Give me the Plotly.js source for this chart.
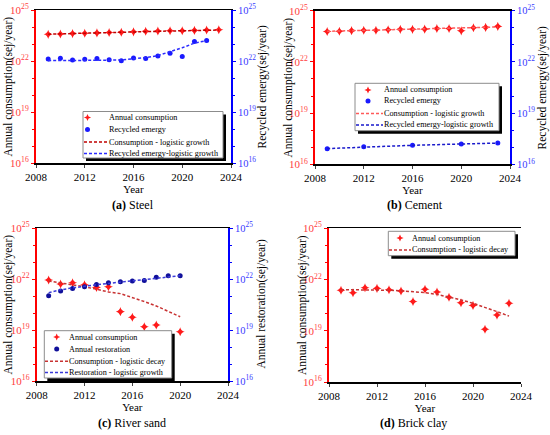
<!DOCTYPE html>
<html><head><meta charset="utf-8">
<script src="https://cdn.plot.ly/plotly-3.0.1.min.js"></script>
<style>html,body{margin:0;padding:0;background:#fff}#chart{width:550px;height:435px}</style>
</head><body><div id="chart"></div>
<script>
// ---------- data ----------
const yearsFull = [2009,2010,2011,2012,2013,2014,2015,2016,2017,2018,2019,2020,2021,2022,2023];
const yearsSteelRec = [2009,2010,2011,2012,2013,2014,2015,2016,2017,2018,2019,2020,2021,2022];
const steelCons = [3.7e23,3.9e23,4.1e23,4.3e23,4.5e23,4.7e23,4.9e23,5.2e23,5.6e23,5.8e23,6.0e23,6.0e23,6.3e23,6.6e23,6.9e23];
const steelConsFit = [3.8e23,4.0e23,4.2e23,4.3e23,4.5e23,4.7e23,4.9e23,5.1e23,5.4e23,5.6e23,5.8e23,6.0e23,6.2e23,6.4e23,6.6e23];
const steelRec = [1.32e22,1.45e22,1.15e22,1.26e22,1.38e22,1.2e22,1.05e22,1.51e22,1.38e22,1.95e22,2.82e22,1.86e22,1.38e23,1.58e23];
const steelRecFit = [1.05e22,1.05e22,1.05e22,1.07e22,1.1e22,1.12e22,1.17e22,1.32e22,1.58e22,2.09e22,3.47e22,6.03e22,1.12e23,1.58e23];

const cementCons = [6.0e23,6.2e23,6.8e23,7.1e23,7.2e23,7.6e23,8.1e23,8.1e23,8.3e23,9.1e23,9.1e23,6.6e23,1.0e24,1.05e24,1.2e24];
const cementConsFit = [6.2e23,6.5e23,6.8e23,7.1e23,7.4e23,7.8e23,7.9e23,8.3e23,8.7e23,9.1e23,9.3e23,9.8e23,1.02e24,1.07e24,1.12e24];
const yearsCementRec = [2009,2012,2016,2020,2023];
const cementRec = [8.1e16,1.07e17,1.29e17,1.55e17,1.78e17];
const cementRecFit = [8.3e16,1.05e17,1.3e17,1.55e17,1.75e17];

const yearsSandCons = [2009,2010,2011,2012,2013,2014,2015,2016,2017,2018,2020];
const sandCons = [8.7e21,5.1e21,6.0e21,4.5e21,3.2e21,3.5e21,1.2e20,5.6e19,1.55e19,1.95e19,7.9e18];
const yearsSand = [2009,2010,2011,2012,2013,2014,2015,2016,2017,2018,2019,2020];
const sandConsFit = [7.6e21,5.9e21,4.6e21,3.5e21,2.5e21,1.74e21,1.38e21,8.3e20,4.7e20,2.6e20,1.26e20,6.0e19];
const sandRest = [1.05e21,1.95e21,2.8e21,3.5e21,4.7e21,6.0e21,6.9e21,7.6e21,8.3e21,1.26e22,1.55e22,1.55e22];
const sandRestFit = [1.58e21,2.3e21,3.0e21,3.8e21,4.6e21,5.5e21,6.5e21,7.6e21,8.9e21,1.07e22,1.29e22,1.55e22];

const clayCons = [2.3e21,1.66e21,3.2e21,2.95e21,2.45e21,2.1e21,5.1e20,2.6e21,1.8e21,8.9e20,4.3e20,3.0e20,1.2e19,8.1e19,4.0e20];
const clayConsFit = [2.5e21,2.5e21,2.45e21,2.4e21,2.3e21,2.15e21,1.95e21,1.66e21,1.32e21,9.5e20,6.3e20,4.0e20,2.4e20,1.3e20,7.1e19];

const yTickVals = [1e16,1e19,1e22,1e25];
const yTickText = ['10<sup>16</sup>','10<sup>19</sup>','10<sup>22</sup>','10<sup>25</sup>'];
const yMinorVals = [1e17,1e18,1e20,1e21,1e23,1e24];
const xTickVals = [2008,2012,2016,2020,2024];
const panelTitles = ['<b>(a)</b> Steel','<b>(b)</b> Cement','<b>(c)</b> River sand','<b>(d)</b> Brick clay'];
const leftTitles = ['Annual consumption(sej/year)','Annual consumption(sej/year)','Annual consumption(sej/year)','Annual consumption(sej/year)'];
const rightTitles = ['Recycled emergy(sej/year)','Recycled emergy(sej/year)','Annual restoration(sej/year)'];
const legendA = ['Annual consumption','Recycled emergy','Consumption - logistic growth','Recycled emergy-logistic growth'];
const legendB = ['Annual consumption','Recycled emergy','Consumption - logistic growth','Recycled emergy-logistic growth'];
const legendC = ['Annual consumption','Annual restoration','Consumption - logistic decay','Restoration - logistic growth'];
const legendD = ['Annual consumption','Consumption - logistic decay'];

// ---------- styles ----------
const FONT = 'Liberation Serif, Times New Roman, serif';
const RED = '#ff0000', BLUE = '#0000ff';
const C_STAR = '#ff1a1a', C_DOT = '#1a1aff', C_DOT_C = '#10109a';
const C_FIT_A = '#c00000', C_FIT_RB = '#ff5a5a', C_FIT_R = '#c83232';
const C_FIT_BA = '#2b2bff', C_FIT_BB = '#1a1acc', C_FIT_BC = '#3a3ad8';
const DASH = '3px,2px';
const LEGFS = 8.2;
const starMk = (c)=>({symbol:'star-diamond', size:6.5, color:c});
const dotMk = (c)=>({symbol:'circle', size:5, color:c});

const traces = [
  {x:yearsFull,y:steelCons,mode:'markers',marker:starMk(C_STAR),xaxis:'x',yaxis:'y'},
  {x:yearsSteelRec,y:steelRec,mode:'markers',marker:dotMk(C_DOT),xaxis:'x',yaxis:'y2'},
  {x:yearsFull,y:steelConsFit,mode:'lines',line:{color:C_FIT_A,dash:DASH,width:1.5},xaxis:'x',yaxis:'y'},
  {x:yearsSteelRec,y:steelRecFit,mode:'lines',line:{color:C_FIT_BA,dash:DASH,width:1.5},xaxis:'x',yaxis:'y2'},

  {x:yearsFull,y:cementCons,mode:'markers',marker:starMk(C_STAR),xaxis:'x2',yaxis:'y3'},
  {x:yearsCementRec,y:cementRec,mode:'markers',marker:dotMk(C_DOT),xaxis:'x2',yaxis:'y4'},
  {x:yearsFull,y:cementConsFit,mode:'lines',line:{color:C_FIT_RB,dash:DASH,width:1.5},xaxis:'x2',yaxis:'y3'},
  {x:yearsCementRec,y:cementRecFit,mode:'lines',line:{color:C_FIT_BB,dash:DASH,width:1.5},xaxis:'x2',yaxis:'y4'},

  {x:yearsSandCons,y:sandCons,mode:'markers',marker:starMk(C_STAR),xaxis:'x3',yaxis:'y5'},
  {x:yearsSand,y:sandRest,mode:'markers',marker:dotMk(C_DOT_C),xaxis:'x3',yaxis:'y6'},
  {x:yearsSand,y:sandConsFit,mode:'lines',line:{color:C_FIT_R,dash:DASH,width:1.5},xaxis:'x3',yaxis:'y5'},
  {x:yearsSand,y:sandRestFit,mode:'lines',line:{color:C_FIT_BC,dash:DASH,width:1.5},xaxis:'x3',yaxis:'y6'},

  {x:yearsFull,y:clayCons,mode:'markers',marker:starMk(C_STAR),xaxis:'x4',yaxis:'y7'},
  {x:yearsFull,y:clayConsFit,mode:'lines',line:{color:C_FIT_R,dash:DASH,width:1.5},xaxis:'x4',yaxis:'y7'}
];
traces.forEach(t=>t.showlegend=false);

function xAx(dom, anchor){
  return {domain:dom, anchor:anchor, range:[2008,2024], tickvals:xTickVals, ticks:'outside', ticklen:3,
    showline:true, linecolor:'#000', linewidth:1.5, mirror:true, showgrid:false, zeroline:false,
    tickfont:{family:FONT,size:11,color:'#000'},
    title:{text:'Year', font:{family:FONT,size:11,color:'#000'}, standoff:0}};
}
function yLeft(dom, anchor){
  return {domain:dom, anchor:anchor, type:'log', range:[16,25], tickvals:yTickVals, ticktext:yTickText,
    ticks:'outside', ticklen:3, tickcolor:RED, showline:true, linecolor:RED, linewidth:2, showgrid:false, zeroline:false,
    minor:{tickvals:yMinorVals, ticks:'outside', ticklen:2, tickcolor:RED},
    tickfont:{family:FONT,size:11,color:'#ff4040'}};
}
function yRight(over, anchor, labels){
  return {overlaying:over, anchor:anchor, side:'right', type:'log', range:[16,25], tickvals:yTickVals, ticktext:yTickText,
    ticks: labels?'outside':'', ticklen:3, tickcolor:BLUE, showline:true, linecolor:BLUE, linewidth:2, showgrid:false, zeroline:false,
    showticklabels:labels,
    minor: labels?{tickvals:yMinorVals, ticks:'outside', ticklen:2, tickcolor:BLUE}:{ticks:''},
    tickfont:{family:FONT,size:10.5,color:'#3a3aff'}};
}

const W=550,H=435;
const px=(a,b)=>[a/W,b/W];
const py=(top,bot)=>[(H-bot)/H,(H-top)/H];
const PX=x=>x/W, PY=y=>1-y/H;

// ---------- hand-drawn legend boxes (pixel geometry) ----------
const shapes=[], annotations=[];
function legendBox(box, markX, lineX0, lineX1, textX, items){
  shapes.push({type:'rect',xref:'paper',yref:'paper',x0:PX(box[0]+3),x1:PX(box[1]+3),y0:PY(box[3]+3),y1:PY(box[2]+3),
    fillcolor:'#000',line:{width:0},layer:'above'});
  shapes.push({type:'rect',xref:'paper',yref:'paper',x0:PX(box[0]),x1:PX(box[1]),y0:PY(box[3]),y1:PY(box[2]),
    fillcolor:'#fff',line:{color:'#8c8c8c',width:1},layer:'above'});
  items.forEach(it=>{
    if(it.kind==='line'){
      shapes.push({type:'line',xref:'paper',yref:'paper',x0:PX(lineX0),x1:PX(lineX1),y0:PY(it.y),y1:PY(it.y),
        line:{color:it.color,width:1.5,dash:DASH},layer:'above'});
    } else if(it.kind==='dot'){
      shapes.push({type:'circle',xref:'paper',yref:'paper',xsizemode:'pixel',ysizemode:'pixel',xanchor:PX(markX),yanchor:PY(it.y),
        x0:-2.5,x1:2.5,y0:-2.5,y1:2.5,fillcolor:it.color,line:{width:0},layer:'above'});
    } else {
      shapes.push({type:'path',xref:'paper',yref:'paper',xsizemode:'pixel',ysizemode:'pixel',xanchor:PX(markX),yanchor:PY(it.y),
        path:'M0,-3.6 L1.1,-1.1 L3.6,0 L1.1,1.1 L0,3.6 L-1.1,1.1 L-3.6,0 L-1.1,-1.1 Z',fillcolor:it.color,line:{width:0},layer:'above'});
    }
    annotations.push({text:it.text,xref:'paper',yref:'paper',x:PX(textX),y:PY(it.y),xanchor:'left',yanchor:'middle',
      showarrow:false,borderpad:0,font:{family:FONT,size:LEGFS,color:'#000'}});
  });
}
legendBox([83,223,111.5,158],87.5,84,108,107.5,[
  {kind:'star',y:117.5,color:C_STAR,text:legendA[0]},
  {kind:'dot',y:129.5,color:C_DOT,text:legendA[1]},
  {kind:'line',y:142,color:C_FIT_A,text:legendA[2]},
  {kind:'line',y:153.5,color:C_FIT_BA,text:legendA[3]}]);
legendBox([355,499,83.3,130.7],368,356,383,382.5,[
  {kind:'star',y:90,color:C_STAR,text:legendB[0]},
  {kind:'dot',y:101,color:C_DOT,text:legendB[1]},
  {kind:'line',y:113.5,color:C_FIT_RB,text:legendB[2]},
  {kind:'line',y:125,color:C_FIT_BB,text:legendB[3]}]);
legendBox([44.3,171.7,330.7,378],56.7,45,68,68,[
  {kind:'star',y:337,color:C_STAR,text:legendC[0]},
  {kind:'dot',y:349,color:C_DOT_C,text:legendC[1]},
  {kind:'line',y:361.3,color:C_FIT_R,text:legendC[2]},
  {kind:'line',y:372.5,color:C_FIT_BC,text:legendC[3]}]);
legendBox([388.3,515,231.3,255.7],400,389,411,411,[
  {kind:'star',y:238,color:C_STAR,text:legendD[0]},
  {kind:'line',y:250,color:C_FIT_R,text:legendD[1]}]);

[[133,205],[415,205],[132,423],[413,423]].forEach((p,i)=>{
  annotations.push({text:panelTitles[i],xref:'paper',yref:'paper',x:PX(p[0]),y:PY(p[1]),xanchor:'center',yanchor:'middle',
    showarrow:false,font:{family:FONT,size:12,color:'#000'}});
});
// y axis titles
const TFONT = {family:FONT,size:11.5,color:'#000'};
[[8,86.5],[288,87.5],[8,304.5],[302,305]].forEach((p,i)=>{
  annotations.push({text:leftTitles[i],xref:'paper',yref:'paper',x:PX(p[0]),y:PY(p[1]),xanchor:'center',yanchor:'middle',
    textangle:-90,showarrow:false,font:TFONT});
});
[[262,86.5],[542,87.5],[261,304.5]].forEach((p,i)=>{
  annotations.push({text:rightTitles[i],xref:'paper',yref:'paper',x:PX(p[0]),y:PY(p[1]),xanchor:'center',yanchor:'middle',
    textangle:-90,showarrow:false,font:TFONT});
});

const layout = {
  width:W, height:H, margin:{l:0,r:0,t:0,b:0}, paper_bgcolor:'#fff', plot_bgcolor:'#fff',
  showlegend:false,
  xaxis:xAx(px(36,231),'y'),
  yaxis:yLeft(py(10,163),'x'),
  yaxis2:yRight('y','x',true),
  xaxis2:xAx(px(315,510),'y3'),
  yaxis3:yLeft(py(10.7,164.3),'x2'),
  yaxis4:yRight('y3','x2',true),
  xaxis3:xAx(px(36.7,228),'y5'),
  yaxis5:yLeft(py(228,381),'x3'),
  yaxis6:yRight('y5','x3',true),
  xaxis4:xAx(px(329,521),'y7'),
  yaxis7:yLeft(py(228,382),'x4'),
  yaxis8:yRight('y7','x4',false),
  shapes:shapes,
  annotations:annotations
};

Plotly.newPlot('chart', traces, layout, {staticPlot:true, displayModeBar:false});
</script></body></html>
